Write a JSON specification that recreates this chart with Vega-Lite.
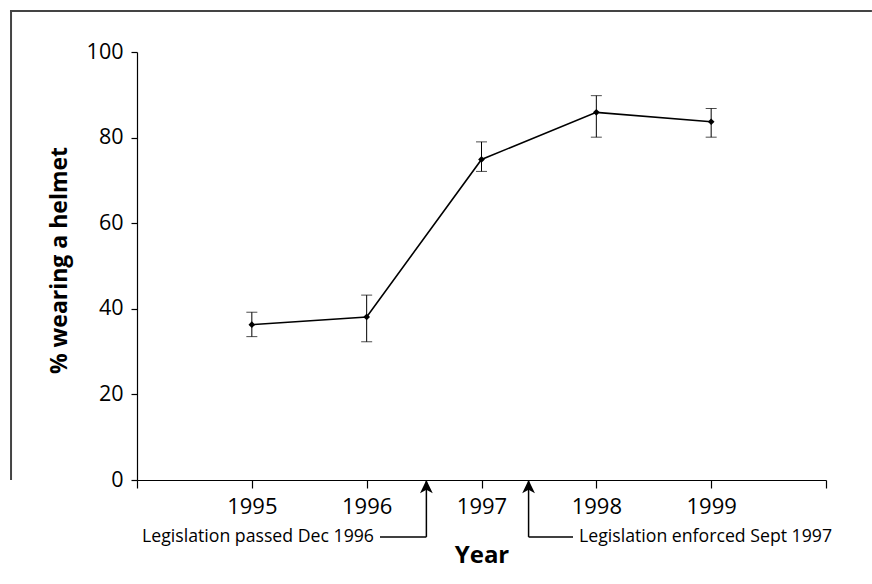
{
  "$schema": "https://vega.github.io/schema/vega-lite/v6.json",
  "width": 689,
  "height": 428,
  "autosize": {"type": "none"},
  "padding": {"left": 137, "top": 52, "right": 46, "bottom": 104},
  "background": "white",
  "config": {
    "view": {"stroke": null},
    "font": "Open Sans",
    "axis": {"grid": false, "domainColor": "black", "tickColor": "black", "labelColor": "black", "titleColor": "black", "labelFont": "Open Sans", "titleFont": "Open Sans"}
  },
  "datasets": {
    "helmet": [
      {"year": 1995, "pct": 36.3, "lo": 33.5, "hi": 39.2},
      {"year": 1996, "pct": 38.1, "lo": 32.3, "hi": 43.2},
      {"year": 1997, "pct": 74.9, "lo": 72.1, "hi": 79.0},
      {"year": 1998, "pct": 85.9, "lo": 80.1, "hi": 89.8},
      {"year": 1999, "pct": 83.7, "lo": 80.1, "hi": 86.8}
    ],
    "notes": [
      {"x": 1996.52, "xEnd": 1996.116, "label": "Legislation passed Dec 1996", "side": "left"},
      {"x": 1997.41, "xEnd": 1997.797, "label": "Legislation enforced Sept 1997", "side": "right"}
    ]
  },
  "layer": [
    {
      "data": {"values": [{"frame": "top"}]},
      "mark": {"type": "rule", "color": "#444444", "strokeWidth": 2},
      "encoding": {
        "x": {"datum": 1992.894, "type": "quantitative", "scale": {"domain": [1994, 2000], "nice": false, "zero": false}},
        "x2": {"datum": 2000.40},
        "y": {"datum": 109.58, "type": "quantitative", "scale": {"domain": [0, 100], "nice": false, "zero": false}}
      }
    },
    {
      "data": {"values": [{"frame": "left"}]},
      "mark": {"type": "rule", "color": "#444444", "strokeWidth": 2},
      "encoding": {
        "x": {"datum": 1992.903, "type": "quantitative"},
        "y": {"datum": 109.8, "type": "quantitative"},
        "y2": {"datum": 0}
      }
    },
    {
      "data": {"name": "helmet"},
      "layer": [
        {
          "mark": {"type": "rule", "color": "black", "strokeWidth": 1},
          "encoding": {
            "x": {"field": "year", "type": "quantitative"},
            "y": {"field": "lo", "type": "quantitative"},
            "y2": {"field": "hi"}
          }
        },
        {
          "mark": {"type": "tick", "orient": "horizontal", "color": "black", "size": 11, "thickness": 1},
          "encoding": {
            "x": {"field": "year", "type": "quantitative"},
            "y": {"field": "lo", "type": "quantitative"}
          }
        },
        {
          "mark": {"type": "tick", "orient": "horizontal", "color": "black", "size": 11, "thickness": 1},
          "encoding": {
            "x": {"field": "year", "type": "quantitative"},
            "y": {"field": "hi", "type": "quantitative"}
          }
        },
        {
          "mark": {"type": "line", "color": "black", "strokeWidth": 1.6},
          "encoding": {
            "x": {
              "field": "year", "type": "quantitative",
              "scale": {"domain": [1994, 2000], "nice": false, "zero": false},
              "axis": {
                "values": [1994, 1995, 1996, 1997, 1998, 1999, 2000],
                "labelExpr": "datum.value == 1994 || datum.value == 2000 ? '' : format(datum.value, 'd')",
                "tickSize": 8, "labelPadding": 8, "labelFontSize": 22,
                "title": "Year", "titleFontSize": 24, "titleFontWeight": "bold", "titlePadding": 26,
                "domainWidth": 1.2, "tickWidth": 1.2
              }
            },
            "y": {
              "field": "pct", "type": "quantitative",
              "scale": {"domain": [0, 100], "nice": false, "zero": false},
              "axis": {
                "values": [0, 20, 40, 60, 80, 100],
                "tickSize": 6, "labelPadding": 8, "labelFontSize": 21.5,
                "title": "% wearing a helmet", "titleFontSize": 23, "titleFontWeight": "bold", "titlePadding": 15, "titleY": 208,
                "domainWidth": 1.2, "tickWidth": 1.2
              }
            }
          }
        },
        {
          "mark": {"type": "point", "shape": "diamond", "filled": true, "color": "black", "size": 45, "opacity": 1},
          "encoding": {
            "x": {"field": "year", "type": "quantitative"},
            "y": {"field": "pct", "type": "quantitative"}
          }
        }
      ]
    },
    {
      "data": {"name": "notes"},
      "layer": [
        {
          "mark": {"type": "rule", "color": "black", "strokeWidth": 1.5},
          "encoding": {
            "x": {"field": "x", "type": "quantitative"},
            "y": {"datum": 0, "type": "quantitative"},
            "y2": {"datum": -13.3}
          }
        },
        {
          "mark": {"type": "rule", "color": "black", "strokeWidth": 1.5},
          "encoding": {
            "x": {"field": "x", "type": "quantitative"},
            "x2": {"field": "xEnd"},
            "y": {"datum": -13.3, "type": "quantitative"}
          }
        },
        {
          "mark": {"type": "point", "shape": "M0,-1L0.9,0.9L0,0.4L-0.9,0.9Z", "filled": true, "color": "black", "opacity": 1, "size": 200, "yOffset": 7},
          "encoding": {
            "x": {"field": "x", "type": "quantitative"},
            "y": {"datum": 0, "type": "quantitative"}
          }
        },
        {
          "transform": [{"filter": "datum.side == 'left'"}],
          "mark": {"type": "text", "align": "right", "baseline": "middle", "dx": -6, "fontSize": 17.7, "color": "black"},
          "encoding": {
            "x": {"field": "xEnd", "type": "quantitative"},
            "y": {"datum": -13.3, "type": "quantitative"},
            "text": {"field": "label"}
          }
        },
        {
          "transform": [{"filter": "datum.side == 'right'"}],
          "mark": {"type": "text", "align": "left", "baseline": "middle", "dx": 6, "fontSize": 17.7, "color": "black"},
          "encoding": {
            "x": {"field": "xEnd", "type": "quantitative"},
            "y": {"datum": -13.3, "type": "quantitative"},
            "text": {"field": "label"}
          }
        }
      ]
    }
  ]
}
